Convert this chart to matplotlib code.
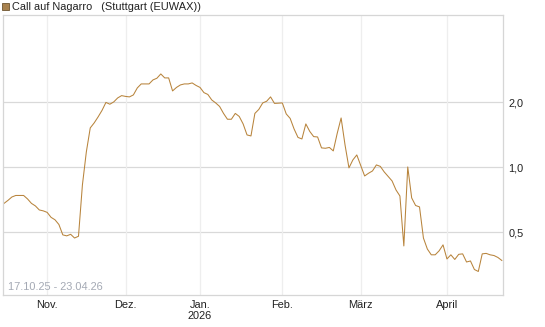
import numpy as np
import pandas as pd
import matplotlib
matplotlib.use("Agg")
import matplotlib.pyplot as plt
from matplotlib.ticker import FixedLocator, NullLocator

plt.rcParams['font.family'] = ['Liberation Sans', 'DejaVu Sans']

# trading days (Stuttgart), 17.10.25 - 23.04.26
holidays = ['2025-12-24', '2025-12-25', '2025-12-26', '2025-12-31',
            '2026-01-01', '2026-04-03', '2026-04-06']
dates = pd.bdate_range('2025-10-17', '2026-04-23', freq='C', holidays=holidays)

prices = [0.680, 0.702, 0.728, 0.740, 0.740, 0.740, 0.713, 0.680, 0.662, 0.634,
          0.628, 0.618, 0.586, 0.571, 0.543, 0.486, 0.481, 0.489, 0.470, 0.479,
          0.828, 1.177, 1.521, 1.604, 1.710, 1.833, 1.996, 1.958, 2.007, 2.094,
          2.146, 2.128, 2.117, 2.162, 2.329, 2.431, 2.431, 2.431, 2.537, 2.583,
          2.704, 2.592, 2.592, 2.256, 2.342, 2.405, 2.431, 2.431, 2.457, 2.392,
          2.342, 2.216, 2.173, 2.049, 1.985, 1.912, 1.775, 1.668, 1.668, 1.775,
          1.719, 1.587, 1.411, 1.396, 1.775, 1.852, 1.985, 2.021, 2.117, 1.975,
          1.979, 1.985, 1.765, 1.683, 1.504, 1.374, 1.352, 1.587, 1.465, 1.386,
          1.381, 1.229, 1.224, 1.235, 1.190, 1.434, 1.691, 1.268, 0.993, 1.081,
          1.140, 1.019, 0.911, 0.938, 0.961, 1.025, 1.009, 0.951, 0.906, 0.864,
          0.785, 0.736, 0.432, 1.003, 0.721, 0.665, 0.655, 0.470, 0.418, 0.393,
          0.393, 0.410, 0.437, 0.376, 0.393, 0.374, 0.395, 0.397, 0.364, 0.368,
          0.336, 0.329, 0.397, 0.399, 0.393, 0.390, 0.382, 0.370]

month_labels = ['Nov.', 'Dez.', 'Jan.\n2026', 'Feb.', 'März', 'April']
y_ticks = [0.5, 1.0, 2.0]
y_labels = ['0,5', '1,0', '2,0']

line_col = '#b8843c'
grid_h = '#d9d9d9'
grid_v = '#eeeeee'
fs = 7.9

x = np.arange(len(dates))
s = pd.Series(x, index=dates)
month_pos = s.groupby([dates.year, dates.month]).first().values[1:]

W, H = 545, 327
fig = plt.figure(figsize=(W / 100, H / 100), dpi=100)
ax = fig.add_axes([3 / W, (H - 295) / H, 500 / W, 280 / H])

ax.plot(x, prices, color=line_col, lw=0.75)

ax.set_yscale('log')
ax.set_ylim(0.256, 5.07)
ax.set_xlim(-0.26, 127.3)

ax.yaxis.set_major_locator(FixedLocator(y_ticks))
ax.yaxis.set_minor_locator(NullLocator())
ax.set_yticklabels(y_labels)
ax.yaxis.tick_right()
ax.set_xticks(month_pos)
ax.set_xticklabels(month_labels)
ax.tick_params(axis='both', length=0, labelsize=fs, colors='#222222')
ax.tick_params(axis='y', pad=4)
ax.tick_params(axis='x', pad=3.5)

for v in y_ticks:
    ax.axhline(v, color=grid_h, lw=0.9, zorder=0)
for p in month_pos:
    ax.axvline(p, color=grid_v, lw=0.9, zorder=0)

for sp in ax.spines.values():
    sp.set_color('#d6d6d6')
    sp.set_linewidth(0.9)

ax.text(0.01, 0.012, '17.10.25 - 23.04.26', transform=ax.transAxes,
        fontsize=fs, color='#a4a9b4', ha='left', va='bottom')

# legend line at the top
fig.patches.append(plt.Rectangle((2 / W, 1 - 10 / H), 7 / W, 7 / H,
                                 transform=fig.transFigure, facecolor='#a8824f',
                                 edgecolor='#6e5530', lw=0.6))
fig.text(11.5 / W, 1 - 6.5 / H, 'Call auf Nagarro   (Stuttgart (EUWAX))',
         fontsize=fs, color='#222222', va='center', ha='left')

fig.savefig('out.png', dpi=100)
